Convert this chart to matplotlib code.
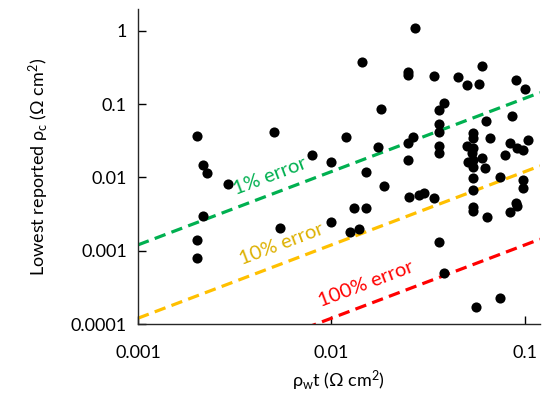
import matplotlib
matplotlib.use('Agg')
import matplotlib.pyplot as plt
import numpy as np

plt.rcParams['font.family'] = ['Lato', 'Open Sans', 'DejaVu Sans']
plt.rcParams['mathtext.fontset'] = 'custom'
plt.rcParams['mathtext.rm'] = 'Open Sans'
plt.rcParams['mathtext.it'] = 'Open Sans:italic'

# sheet resistance x thickness vs lowest reported contact resistivity
rho_w_t = [0.00202, 0.00217, 0.00227, 0.00292, 0.00217, 0.00202, 0.00202, 0.00505,
           0.00792, 0.00993, 0.00542, 0.00993, 0.0180, 0.0119, 0.0174, 0.0264,
           0.0248, 0.0248, 0.0151, 0.0187, 0.0252, 0.0283, 0.0301, 0.0131,
           0.0151, 0.0270, 0.0144, 0.0248, 0.0248, 0.0339, 0.0451, 0.0501,
           0.0578, 0.0600, 0.0897, 0.1000, 0.0381, 0.0360, 0.0360, 0.0360,
           0.0360, 0.0360, 0.0628, 0.0857, 0.0659, 0.0538, 0.0538, 0.0501,
           0.0538, 0.0532, 0.0538, 0.0507, 0.0600, 0.0621, 0.0538, 0.0538,
           0.0743, 0.0836, 0.0910, 0.0977, 0.1038, 0.0789, 0.0977, 0.0977,
           0.0538, 0.0339, 0.0538, 0.0538, 0.0637, 0.0897, 0.0836, 0.0910,
           0.0360, 0.0381, 0.0558, 0.0743, 0.0125, 0.0139]
rho_c = [0.0367, 0.0148, 0.0115, 0.00813, 0.00297, 0.00140, 0.000794, 0.0416,
         0.0202, 0.0162, 0.00204, 0.00247, 0.0857, 0.0356, 0.0260, 0.0356,
         0.0294, 0.0173, 0.0119, 0.00764, 0.00541, 0.00575, 0.00612, 0.00383,
         0.00383, 1.09, 0.375, 0.274, 0.249, 0.2415, 0.234, 0.182,
         0.188, 0.331, 0.213, 0.161, 0.1035, 0.0829, 0.0536, 0.0416,
         0.0268, 0.0215, 0.0587, 0.0689, 0.0345, 0.0404, 0.0345, 0.0268,
         0.0252, 0.0215, 0.0173, 0.0162, 0.0184, 0.0134, 0.0139, 0.00982,
         0.0101, 0.0294, 0.0252, 0.0237, 0.0323, 0.0202, 0.00923, 0.00716,
         0.00673, 0.00524, 0.00394, 0.00348, 0.00288, 0.00448, 0.00337, 0.00408,
         0.00132, 0.000497, 0.000171, 0.000226, 0.00180, 0.00198]

error_labels = ['1% error', '10% error', '100% error']
error_factors = [1.2, 0.12, 0.012]
line_colors = ['#00B050', '#FFC000', '#FF0000']
text_colors = ['#00B050', '#DDB000', '#FF0000']
label_pos = [(0.00481, 0.0105), (0.00555, 0.00123), (0.01507, 0.000351)]

xticks = [0.001, 0.01, 0.1]
yticks = [0.0001, 0.001, 0.01, 0.1, 1]

fig = plt.figure(figsize=(5.43, 3.98), dpi=100)
ax = fig.add_axes([0.2541, 0.1859, 0.7403, 0.7915])
ax.set_xscale('log')
ax.set_yscale('log')
xlim = (0.001, 0.1195)
ylim = (0.0001, 1.98)
ax.set_xlim(*xlim)
ax.set_ylim(*ylim)

xl = np.array(xlim)
for f, c in zip(error_factors, line_colors):
    ax.plot(xl, f * xl, color=c, lw=2.3, dashes=(3.6, 2.0), zorder=2)

ax.plot(rho_w_t, rho_c, 'o', color='black', ms=7.3, mew=0, zorder=3)

# text angle follows the 1:1 slope in display space
p0 = ax.transData.transform((0.001, 0.001))
p1 = ax.transData.transform((0.1, 0.1))
angle = np.degrees(np.arctan2(p1[1] - p0[1], p1[0] - p0[0]))
for lab, (x, y), c in zip(error_labels, label_pos, text_colors):
    ax.text(x, y, lab, color=c, fontsize=14.5, rotation=angle,
            rotation_mode='anchor', ha='center', va='center')

ax.set_xticks(xticks)
ax.set_xticklabels([str(t) for t in xticks])
ax.set_yticks(yticks)
ax.set_yticklabels(['0.0001', '0.001', '0.01', '0.1', '1'])
ax.minorticks_off()
ax.tick_params(direction='in', length=6, width=1, labelsize=13, pad=8,
               colors='black')
ax.tick_params(axis='x', pad=15)
for s in ['top', 'right']:
    ax.spines[s].set_visible(False)
for s in ['left', 'bottom']:
    ax.spines[s].set_linewidth(1)
    ax.spines[s].set_color('#262626')

ax.set_xlabel(r'$\mathregular{\rho_w}$t ($\mathregular{\Omega}$ cm$\mathregular{^2}$)',
              fontsize=13, labelpad=6)
ax.set_ylabel(r'Lowest reported $\mathregular{\rho_c}$ ($\mathregular{\Omega}$ cm$\mathregular{^2}$)',
              fontsize=13, labelpad=14)

fig.savefig('out.png', dpi=100)
